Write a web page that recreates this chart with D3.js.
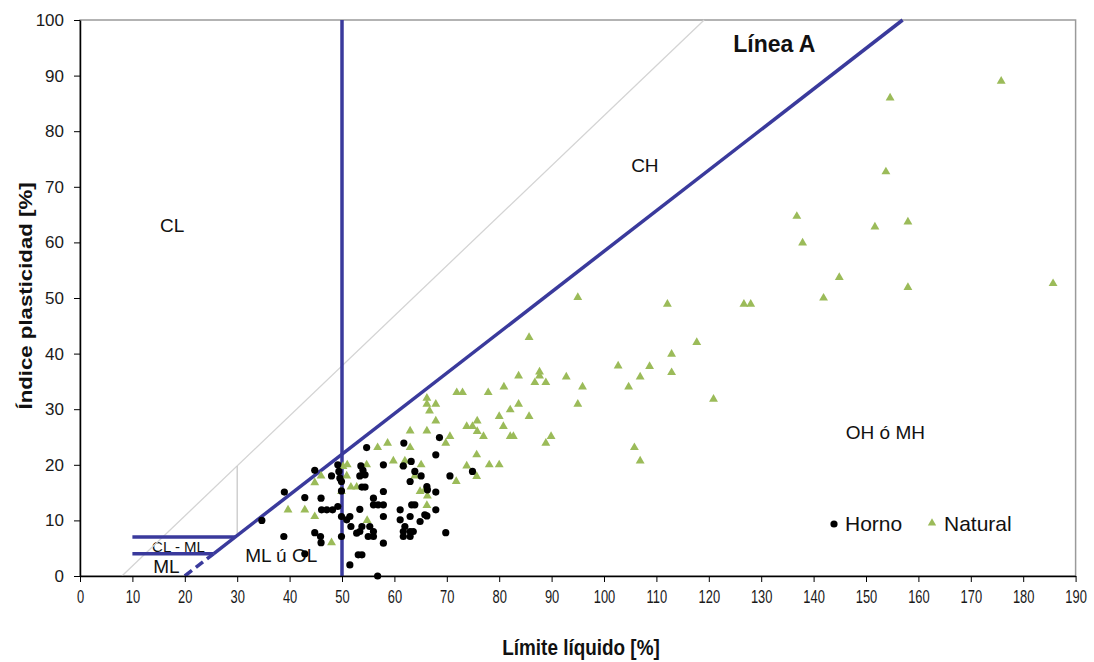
<!DOCTYPE html>
<html>
<head>
<meta charset="utf-8">
<script src="https://cdn.jsdelivr.net/npm/d3@7"></script>
<style>
    body { margin: 0; background: #fff; }
    svg text { font-family: "Liberation Sans", Arial, sans-serif; }
</style>
</head>
<body>
<svg id="chart" width="1094" height="662"></svg>
<script>
// ensayos secados en horno [LL, IP]
var horno = [
    [34.7,10],[39,15.1],[38.9,7.1],[42.9,14.1],[42.9,4],[44.8,19],[44.8,7.8],[45.9,7.1],[46,6],[46,14],
    [46.1,11.9],[47.1,11.9],[48.2,11.9],[48,18],[49.2,20],[49.4,18.8],[49.6,17.6],[49.2,12.5],[49.9,10.7],[49.9,7.1],
    [49.9,17],[49.9,15.3],[50.9,10.1],[51.5,10.7],[51.7,8.9],[51.5,2],[52.8,7.7],[53.4,8],[53.8,8.9],[53.1,3.8],
    [53.8,3.8],[53.4,18],[53.6,19.8],[54,19],[54.4,18.2],[53.8,16],[54.4,16],[53.4,12],[54.7,23.1],[55.3,8.9],
    [56,8],[55,7.1],[56,7.1],[56,14],[56,12.8],[56.9,12.8],[57.9,12.8],[57.9,15.2],[57.9,20],[57.9,10.7],
    [57.9,5.9],[56.8,0],[61.1,11.9],[61.1,10.1],[61.8,23.9],[61.7,19.8],[63.2,20.6],[63,17],[63.9,18.8],[65.1,18],
    [63.3,12.8],[63.9,12.8],[63,10.7],[62,8.9],[61.7,8],[63,8],[63.6,8],[61.7,7.1],[63,7.1],[65.8,11],
    [64.9,9.8],[66.2,16.1],[67.9,15.1],[66.3,15.5],[67.9,11.9],[66.2,10.8],[67.9,21.8],[68.6,24.9],[69.8,7.8],[70.6,18],
    [74.9,18.8]
];

// ensayos en estado natural [LL, IP]
var natural = [
    [39.7,11.9],[42.9,11.9],[44.8,10.7],[44.8,16.8],[46,18],[48,6],[49.9,15.2],[50.2,19.7],[51,20],[50.9,18],
    [51.7,16],[52.8,16],[54.7,20],[54.8,10],[56.8,23.1],[58.7,23.9],[59.8,20.7],[62,20.7],[61.7,20],[63,23.1],
    [63,26.1],[63.9,18],[65.1,20],[64.9,15.2],[65.8,15.5],[66.3,14.4],[66.2,12.7],[66.2,26.1],[67.9,27.9],[66.7,29.7],
    [66.2,30.9],[67.9,30.9],[66.2,32],[69.8,23.9],[70.6,25.1],[71.8,17],[71.9,33],[73,33],[73.8,26.9],[74.9,26.9],
    [75.8,27.9],[75.8,26],[75.7,21.8],[73.8,19.8],[75.7,17.9],[77,25.1],[77.9,33],[78.1,20],[80,20],[80,28.7],
    [80.8,26.9],[80.9,34],[82.1,29.9],[82.1,25.1],[82.7,25.1],[83.7,30.9],[83.7,36],[85.7,28.7],[85.7,42.9],[86.8,34.8],
    [87.7,36.7],[87.7,36],[88.9,34.8],[88.9,23.9],[89.9,25.1],[92.8,35.8],[95,50.1],[95,30.9],[95.9,34],[102.7,37.8],
    [104.7,34],[105.8,23.1],[106.9,35.8],[106.9,20.7],[108.7,37.7],[112.1,48.9],[112.9,39.9],[112.9,36.6],[117.7,42],[120.9,31.8],
    [126.7,48.9],[128,48.9],[136.8,64.7],[137.9,59.9],[141.9,50],[144.9,53.7],[151.7,62.8],[153.8,72.7],[154.6,86],[158,63.7],
    [158,51.9],[175.8,89],[185.7,52.6]
];

// lineas de la carta de Casagrande [[LL, IP], [LL, IP]]
var lineaA = [[25.48,4],[156.99,100]];
var lineaADash = [[20,0],[25.48,4]];
var lineaU = [[8,0],[119.11,100]];
var limites = [
    [[50,0],[50,100]],
    [[10,7],[29.59,7]],
    [[10,4],[25.48,4]]
];
var lineaGris = [[30,7],[30,19.8]];

var xTicks = d3.range(0, 191, 10);
var yTicks = d3.range(0, 101, 10);

// etiquetas de zonas [texto, LL, IP, tamaño]
var zonas = [
    ["CL", 17.6, 61.8, 19],
    ["CH", 107.8, 72.7, 19],
    ["OH ó MH", 153.7, 24.6, 19],
    ["ML ú OL", 38.4, 2.6, 19],
    ["ML", 16.5, 0.5, 19],
    ["CL - ML", 18.8, 4.4, 15]
];

var svg = d3.select("#chart");
var mLeft = 80, mTop = 20, w = 995.6, h = 556;
var blue = "#3a3a9c", green = "#9bbb59";

var x = d3.scaleLinear().domain([0, 190]).range([mLeft, mLeft + w]);
var y = d3.scaleLinear().domain([0, 100]).range([mTop + h, mTop]);

// marco
svg.append("rect")
    .attr("x", mLeft).attr("y", mTop)
    .attr("width", w).attr("height", h)
    .attr("fill", "none")
    .attr("stroke", "#9a9a9a")
    .attr("stroke-width", 1.5);

// textos de zonas (debajo de lineas y puntos)
svg.append("g").selectAll("text")
    .data(zonas)
    .enter()
    .append("text")
    .attr("x", d => x(d[1]))
    .attr("y", d => y(d[2]))
    .attr("text-anchor", "middle")
    .style("font-size", d => d[3] + "px")
    .attr("fill", "#111")
    .text(d => d[0]);

var line = d3.line().x(d => x(d[0])).y(d => y(d[1]));

svg.append("path").attr("d", line(lineaU))
    .attr("stroke", "#d4d4d4").attr("stroke-width", 1.3).attr("fill", "none");
svg.append("path").attr("d", line(lineaGris))
    .attr("stroke", "#c8c8c8").attr("stroke-width", 1.3).attr("fill", "none");

limites.concat([lineaA]).forEach(function (seg) {
    svg.append("path").attr("d", line(seg))
        .attr("stroke", blue).attr("stroke-width", 3.5).attr("fill", "none");
});
svg.append("path").attr("d", line(lineaADash))
    .attr("stroke", blue).attr("stroke-width", 3.5).attr("fill", "none")
    .attr("stroke-dasharray", "9,5");

// ejes
var xAxis = svg.append("g")
    .attr("transform", "translate(0," + (mTop + h) + ")")
    .call(d3.axisBottom(x).tickValues(xTicks).tickSize(6).tickSizeOuter(0).tickPadding(8));
var yAxis = svg.append("g")
    .attr("transform", "translate(" + mLeft + ",0)")
    .call(d3.axisLeft(y).tickValues(yTicks).tickSize(6).tickSizeOuter(0).tickPadding(10));

[xAxis, yAxis].forEach(function (g) {
    g.select(".domain").attr("stroke", "#000").attr("stroke-width", 1.5);
    g.selectAll(".tick line").attr("stroke", "#000");
    g.selectAll(".tick text")
        .attr("fill", "#1a1a1a")
        .style("font-size", "17px")
        .style("font-family", "'Liberation Sans', Arial, sans-serif");
});
// las etiquetas del eje x se ven estrechas en el original
xAxis.selectAll(".tick text")
    .style("font-size", "19px")
    .attr("transform", "scale(0.68,1)");

// puntos
svg.append("g").selectAll("path")
    .data(natural)
    .enter()
    .append("path")
    .attr("d", d3.symbol().type(d3.symbolTriangle).size(34))
    .attr("transform", d => "translate(" + x(d[0]) + "," + y(d[1]) + ")")
    .attr("fill", green);

svg.append("g").selectAll("circle")
    .data(horno)
    .enter()
    .append("circle")
    .attr("cx", d => x(d[0]))
    .attr("cy", d => y(d[1]))
    .attr("r", 3.6)
    .attr("fill", "#000");

svg.append("text")
    .attr("x", x(132.5)).attr("y", y(94.2))
    .attr("text-anchor", "middle")
    .style("font-size", "23px")
    .style("font-weight", "bold")
    .attr("fill", "#111")
    .text("Línea A");

// leyenda
var leg = svg.append("g").attr("transform", "translate(834,524)");
leg.append("circle").attr("cx", 0).attr("cy", 0).attr("r", 3.6).attr("fill", "#000");
leg.append("text").attr("x", 11).attr("y", 7).style("font-size", "21px").attr("fill", "#111").text("Horno");
leg.append("path")
    .attr("d", d3.symbol().type(d3.symbolTriangle).size(30))
    .attr("transform", "translate(98,-1)")
    .attr("fill", green);
leg.append("text").attr("x", 110).attr("y", 7).style("font-size", "21px").attr("fill", "#111").text("Natural");

// titulos de ejes
svg.append("text")
    .attr("transform", "translate(581,655) scale(0.86,1)")
    .attr("text-anchor", "middle")
    .style("font-size", "22px")
    .style("font-weight", "bold")
    .attr("fill", "#111")
    .text("Límite líquido [%]");

svg.append("text")
    .attr("transform", "translate(32,296) rotate(-90) scale(1.17,1)")
    .attr("text-anchor", "middle")
    .style("font-size", "19px")
    .style("font-weight", "bold")
    .attr("fill", "#111")
    .text("Índice plasticidad [%]");
</script>
</body>
</html>
